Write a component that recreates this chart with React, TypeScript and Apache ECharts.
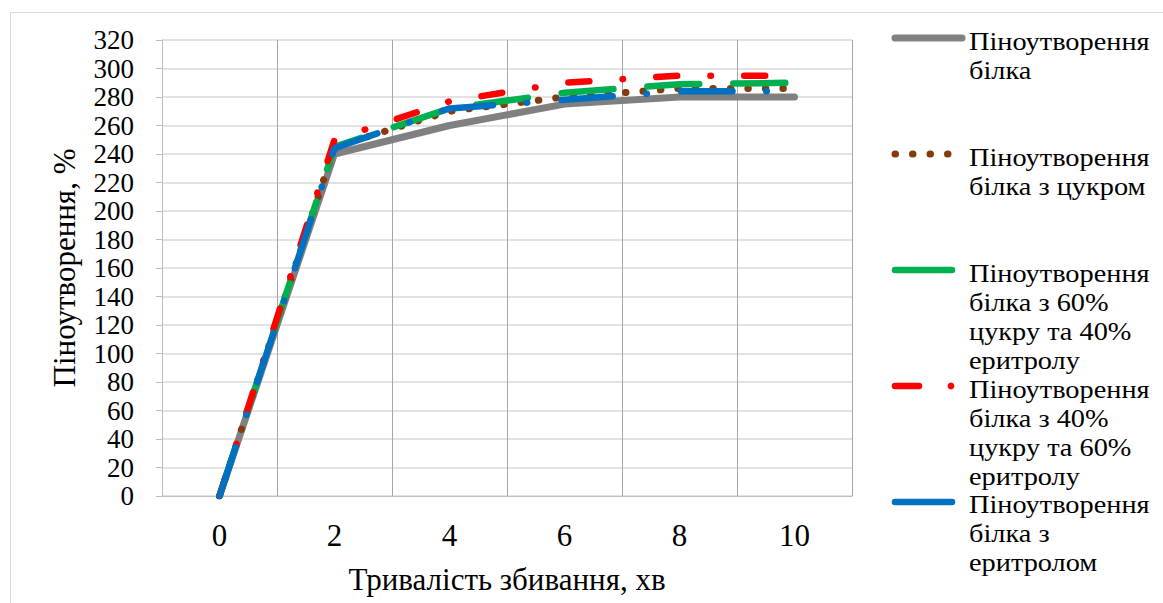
import React, { useEffect, useRef } from "react";
import * as echarts from "echarts";

const categories = ["0", "2", "4", "6", "8", "10"];
const yTicks = { min: 0, max: 320, interval: 20 };

const seriesNames = [
  "Піноутворення білка",
  "Піноутворення білка з цукром",
  "Піноутворення білка з 60% цукру та 40% еритролу",
  "Піноутворення білка з 40% цукру та 60% еритролу",
  "Піноутворення білка з еритролом",
];
const legendLines = [
  "Піноутворення\nбілка",
  "Піноутворення\nбілка з цукром",
  "Піноутворення\nбілка з 60%\nцукру та 40%\nеритролу",
  "Піноутворення\nбілка з 40%\nцукру та 60%\nеритролу",
  "Піноутворення\nбілка з\nеритролом",
];
const proteinOnly = [0, 240, 260, 275, 280, 280];
const withSugar = [0, 245, 270, 280, 286, 286];
const sugar60Erythritol40 = [0, 245, 272, 283, 289, 290];
const sugar40Erythritol60 = [0, 250, 277, 290, 295, 295];
const withErythritol = [0, 244, 272, 278, 284, 284];

const colors = ["#808080", "#843C0C", "#00B050", "#FF0000", "#0070C0"];
const FONT = "Liberation Serif";

export default function App() {
  const ref = useRef<HTMLDivElement>(null);
  useEffect(() => {
    document.body.style.margin = "0";
    const chart = echarts.init(ref.current!, null, { renderer: "svg" });
    const dashes: any[] = [
      "solid",
      [0.5, 17],
      [52, 34],
      [21, 33.25, 0.5, 33.25],
      [51.6, 33.75, 0.5, 34.15],
    ];
    const widths = [7, 7, 6.5, 6.5, 6.5];
    const data = [proteinOnly, withSugar, sugar60Erythritol40, sugar40Erythritol60, withErythritol];
    const series = data.map((d, i) => ({
      name: seriesNames[i],
      type: "line",
      data: d,
      symbol: "none",
      z: 2 + i,
      lineStyle: {
        color: colors[i],
        width: widths[i],
        type: dashes[i],
        cap: "round",
        join: "round",
      },
    }));

    const legendY = [38, 154, 270, 386, 502];
    const textY = [41.5, 157, 273, 389, 504.5];
    const LH = 29;
    const graphics: any[] = [
      {
        type: "rect",
        shape: { x: 10.5, y: 12.5, width: 1170, height: 620 },
        style: { fill: "none", stroke: "#d9d9d9", lineWidth: 1 },
        silent: true,
      },
      {
        type: "line",
        shape: { x1: 895, y1: legendY[0], x2: 962, y2: legendY[0] },
        style: { stroke: colors[0], lineWidth: 7, lineCap: "round" },
      },
      {
        type: "line",
        shape: { x1: 895, y1: legendY[1], x2: 948, y2: legendY[1] },
        style: { stroke: colors[1], lineWidth: 7, lineCap: "round", lineDash: [0.5, 17] },
      },
      {
        type: "line",
        shape: { x1: 895, y1: legendY[2], x2: 952, y2: legendY[2] },
        style: { stroke: colors[2], lineWidth: 6.5, lineCap: "round" },
      },
      {
        type: "line",
        shape: { x1: 895, y1: legendY[3], x2: 919, y2: legendY[3] },
        style: { stroke: colors[3], lineWidth: 6.5, lineCap: "round" },
      },
      {
        type: "circle",
        shape: { cx: 951, cy: legendY[3], r: 3.4 },
        style: { fill: colors[3] },
      },
      {
        type: "line",
        shape: { x1: 895, y1: legendY[4], x2: 952, y2: legendY[4] },
        style: { stroke: colors[4], lineWidth: 6.5, lineCap: "round" },
      },
    ];
    legendLines.forEach((t, i) => {
      graphics.push({
        type: "text",
        x: 969,
        y: textY[i] - LH / 2,
        scaleX: 1.09,
        style: {
          text: t,
          fontFamily: FONT,
          fontSize: 26,
          fill: "#000",
          lineHeight: LH,
          verticalAlign: "top",
          align: "left",
        },
      });
    });

    chart.setOption({
      animation: false,
      backgroundColor: "#fff",
      grid: { left: 162, right: 311, top: 40, bottom: 107, containLabel: false },
      xAxis: {
        type: "category",
        data: categories,
        boundaryGap: true,
        name: "Тривалість збивання, хв",
        nameLocation: "middle",
        nameGap: 68,
        nameTextStyle: { fontFamily: FONT, fontSize: 31, color: "#000" },
        axisLine: { lineStyle: { color: "#bfbfbf", width: 1 } },
        axisTick: { show: false },
        axisLabel: { fontFamily: FONT, fontSize: 31, color: "#000", margin: 24 },
        splitLine: { show: true, lineStyle: { color: "#a6a6a6", width: 1 } },
      },
      yAxis: {
        type: "value",
        min: yTicks.min,
        max: yTicks.max,
        interval: yTicks.interval,
        name: "Піноутворення, %",
        nameLocation: "middle",
        nameGap: 82,
        nameRotate: 90,
        nameTextStyle: { fontFamily: FONT, fontSize: 31, color: "#000" },
        axisLine: { show: true, lineStyle: { color: "#bfbfbf", width: 1 } },
        axisTick: { show: true, length: 6, lineStyle: { color: "#bfbfbf" } },
        axisLabel: {
          fontFamily: FONT,
          fontSize: 27,
          color: "#000",
          margin: 28,
          showMinLabel: true,
          showMaxLabel: true,
          hideOverlap: false,
        },
        splitLine: { show: true, lineStyle: { color: "#d9d9d9", width: 1.5 } },
      },
      series,
      graphic: graphics,
    });
    return () => chart.dispose();
  }, []);
  return (
    <div
      ref={ref}
      style={{ position: "absolute", left: 0, top: 0, width: 1163, height: 603 }}
    />
  );
}
